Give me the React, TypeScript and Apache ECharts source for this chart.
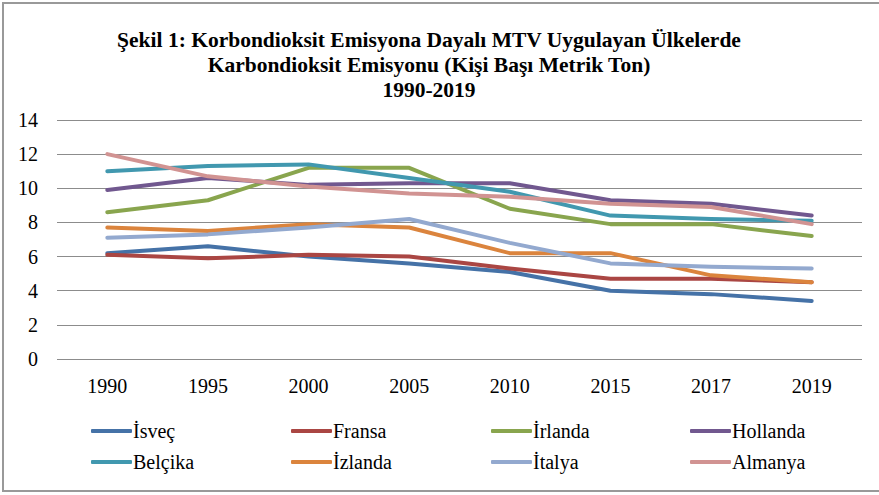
import React, { useEffect, useRef } from "react";
import * as echarts from "echarts";

const years = ["1990", "1995", "2000", "2005", "2010", "2015", "2017", "2019"];
const isvec = [6.2, 6.6, 6.0, 5.6, 5.1, 4.0, 3.8, 3.4];
const fransa = [6.1, 5.9, 6.1, 6.0, 5.3, 4.7, 4.7, 4.5];
const irlanda = [8.6, 9.3, 11.2, 11.2, 8.8, 7.9, 7.9, 7.2];
const hollanda = [9.9, 10.6, 10.2, 10.3, 10.3, 9.3, 9.1, 8.4];
const belcika = [11.0, 11.3, 11.4, 10.6, 9.8, 8.4, 8.2, 8.1];
const izlanda = [7.7, 7.5, 7.9, 7.7, 6.2, 6.2, 4.9, 4.5];
const italya = [7.1, 7.3, 7.7, 8.2, 6.8, 5.6, 5.4, 5.3];
const almanya = [12.0, 10.7, 10.1, 9.7, 9.5, 9.1, 8.9, 7.9];

const seriesNames = ["İsveç", "Fransa", "İrlanda", "Hollanda", "Belçika", "İzlanda", "İtalya", "Almanya"];
const seriesData = [isvec, fransa, irlanda, hollanda, belcika, izlanda, italya, almanya];
const colors = ["#4572A7", "#AA4643", "#89A54E", "#71588F", "#4198AF", "#DB843D", "#93A9CF", "#D19392"];

const titleLines = [
  "Şekil 1: Korbondioksit Emisyona Dayalı MTV Uygulayan Ülkelerde",
  "Karbondioksit Emisyonu (Kişi Başı Metrik Ton)",
  "1990-2019",
];

const FONT = "Liberation Serif";

export default function App() {
  const ref = useRef<HTMLDivElement>(null);
  useEffect(() => {
    document.body.style.margin = "0";
    if (!ref.current) return;
    const chart = echarts.init(ref.current, null, { renderer: "svg" });
    const colLeft = [91, 291, 491, 690];
    const rowTop = [421, 452];
    const legendText = { fontFamily: FONT, fontSize: 20, color: "#000", padding: [0, 0, 0, -4] };
    const legends = seriesNames.map((name, i) => ({
      left: colLeft[i % 4],
      top: rowTop[Math.floor(i / 4)],
      data: [name],
      icon: "roundRect",
      itemWidth: 41,
      itemHeight: 4,
      padding: 0,
      textStyle: legendText,
    }));
    chart.setOption({
      animation: false,
      color: colors,
      textStyle: { fontFamily: FONT },
      title: {
        text: titleLines.join("\n"),
        left: 424,
        top: 22,
        textAlign: "center",
        textStyle: {
          fontFamily: FONT,
          fontSize: 21.5,
          fontWeight: "bold",
          color: "#000",
          lineHeight: 25,
        },
      },
      graphic: [
        {
          type: "rect",
          shape: { x: 3, y: 3, width: 890, height: 488 },
          style: { fill: "none", stroke: "#999", lineWidth: 2 },
          silent: true,
        },
      ],
      legend: legends,
      grid: { left: 57, right: 17, top: 120, height: 239 },
      xAxis: {
        type: "category",
        data: years,
        boundaryGap: true,
        axisLine: { show: false },
        axisTick: { show: false },
        axisLabel: { fontFamily: FONT, fontSize: 20, color: "#000", margin: 17 },
      },
      yAxis: {
        type: "value",
        min: 0,
        max: 14,
        interval: 2,
        axisLine: { show: false },
        axisTick: { show: false },
        axisLabel: { fontFamily: FONT, fontSize: 20, color: "#000", margin: 19 },
        splitLine: { lineStyle: { color: "#8c8c8c", width: 1.2 } },
      },
      series: seriesNames.map((name, i) => ({
        name,
        type: "line",
        data: seriesData[i],
        symbol: "none",
        lineStyle: { width: 4, color: colors[i], cap: "round", join: "round" },
        itemStyle: { color: colors[i] },
      })),
    });
    return () => chart.dispose();
  }, []);
  return <div ref={ref} style={{ width: 879, height: 495, position: "absolute", left: 0, top: 0 }} />;
}
